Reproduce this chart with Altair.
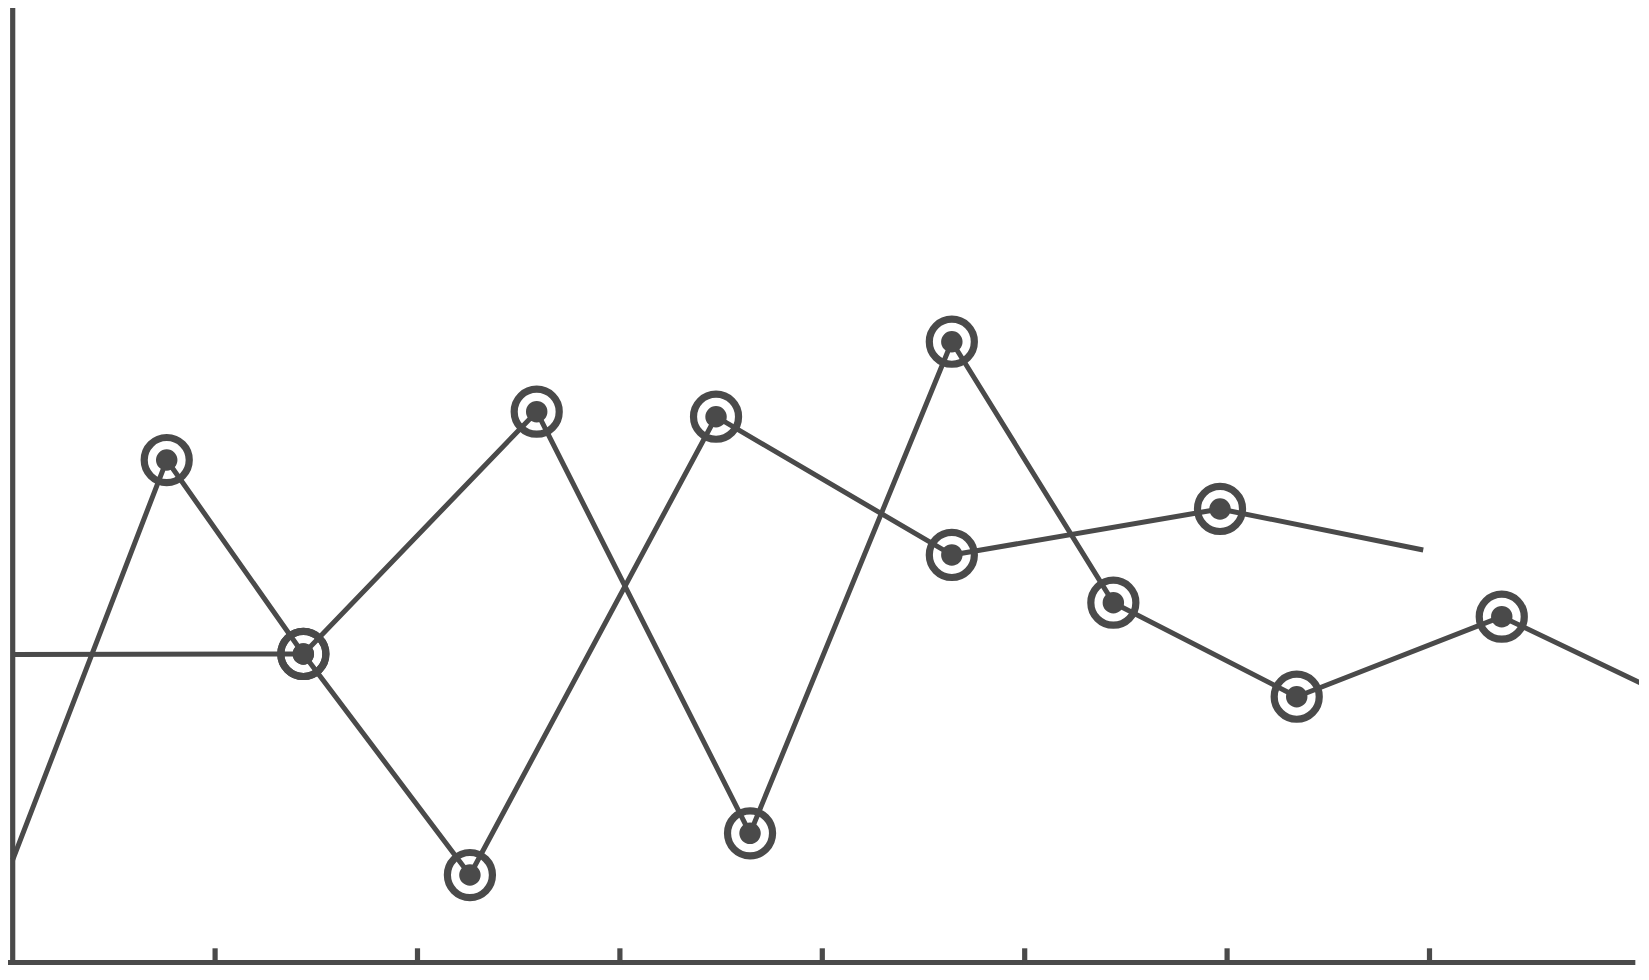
import altair as alt
import pandas as pd

# ---- data ----
a_x = [0.0, 0.761, 1.436, 2.259, 3.475, 4.640, 5.965, 6.969]
a_y = [1.077, 5.269, 3.236, 0.919, 5.723, 4.274, 4.756, 4.326]
b_x = [0.0, 1.436, 2.589, 3.643, 4.640, 5.438, 6.344, 7.357, 8.081]
b_y = [3.231, 3.236, 5.776, 1.356, 6.509, 3.774, 2.788, 3.627, 2.893]
x_ticks = [1, 2, 3, 4, 5, 6, 7]

# ---- scale extents ----
X_MIN, X_MAX = -0.0232, 8.0351
Y_MIN, Y_MAX = -0.024, 10.007
X_AXIS_END = 8.017
TICK_TOP = 0.151

C = "#4a4a4a"

rows = []
for name, xs_, ys_ in [("A", a_x, a_y), ("B", b_x, b_y)]:
    n = len(xs_)
    for i, (xv, yv) in enumerate(zip(xs_, ys_)):
        rows.append({"series": name, "order": i, "x": xv, "y": yv,
                     "marked": 0 < i < n - 1})
df = pd.DataFrame(rows)

xsc = alt.Scale(domain=[X_MIN, X_MAX], nice=False, zero=False)
ysc = alt.Scale(domain=[Y_MIN, Y_MAX], nice=False, zero=False)

X = alt.X("x:Q", scale=xsc, axis=None)
Y = alt.Y("y:Q", scale=ysc, axis=None)

base = alt.Chart(df)
lines = base.mark_line(color=C, strokeWidth=5, clip=True, strokeJoin="round").encode(
    x=X, y=Y, detail="series:N", order="order:Q")
rings = base.transform_filter("datum.marked").mark_point(
    shape="circle", filled=False, size=2030, strokeWidth=7.2, color=C, opacity=1
).encode(x=X, y=Y)
dots = base.transform_filter("datum.marked").mark_circle(
    size=460, color=C, opacity=1).encode(x=X, y=Y)

# axis lines and ticks drawn as rules
yaxis_df = pd.DataFrame({"x": [0.0], "y": [Y_MIN], "y2": [Y_MAX]})
xaxis_df = pd.DataFrame({"x": [X_MIN], "x2": [X_AXIS_END], "y": [0.0]})
ticks_df = pd.DataFrame({"x": x_ticks, "y": [Y_MIN] * len(x_ticks),
                         "y2": [TICK_TOP] * len(x_ticks)})

yaxis = alt.Chart(yaxis_df).mark_rule(color=C, strokeWidth=5.2).encode(
    x=X, y=Y, y2="y2:Q")
xaxis = alt.Chart(xaxis_df).mark_rule(color=C, strokeWidth=5.2).encode(
    x=X, x2="x2:Q", y=Y)
ticks = alt.Chart(ticks_df).mark_rule(color=C, strokeWidth=5.2).encode(
    x=X, y=Y, y2="y2:Q")

chart = alt.layer(yaxis, xaxis, ticks, lines, rings, dots).properties(
    width=1631, height=957, padding=0,
    autosize=alt.AutoSizeParams(type="none"),
    background="white",
).configure_view(stroke=None)

chart.save("out.html", embed_options={"renderer": "svg", "actions": False})
